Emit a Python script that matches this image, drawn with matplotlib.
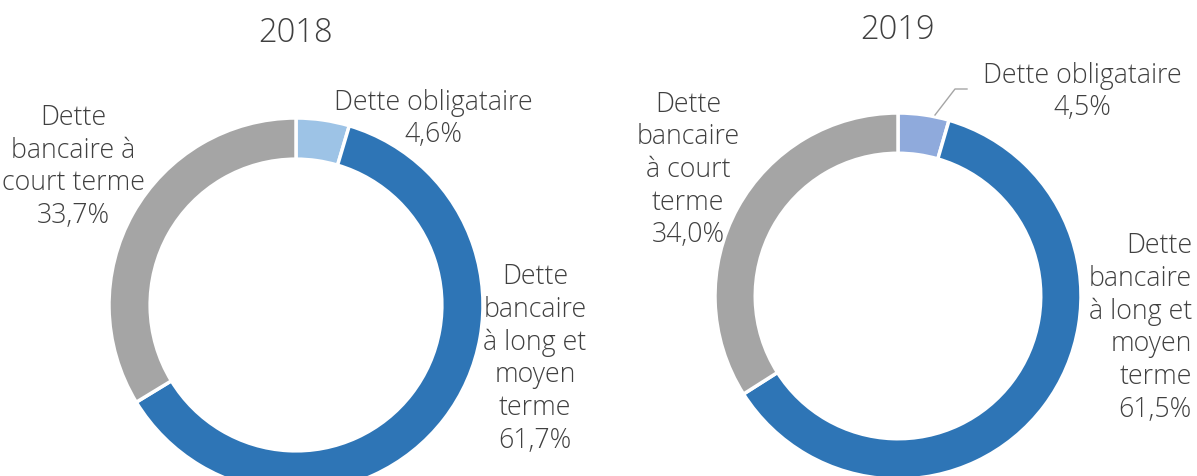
import matplotlib.pyplot as plt

# chart data
years = ['2018', '2019']
categories = ['Dette obligataire', 'Dette bancaire à long et moyen terme', 'Dette bancaire à court terme']
values_2018 = [4.6, 61.7, 33.7]
values_2019 = [4.5, 61.5, 34.0]
colours_2018 = ['#9DC3E6', '#2E75B6', '#A5A5A5']
colours_2019 = ['#8FAADC', '#2E75B6', '#A5A5A5']

W, H = 1197, 476
TXT = '#404040'
plt.rcParams['font.family'] = ['Open Sans', 'DejaVu Sans']

fig = plt.figure(figsize=(W / 100, H / 100), dpi=100)
ax = fig.add_axes([0, 0, 1, 1])


def py(y):
    # convert top-down pixel y into axis y
    return H - y


def fmt(v):
    return ('%.1f%%' % v).replace('.', ',')


# donut geometry (centre x, centre y, radius) in pixels
donuts = [(296, 305, 187), (898, 296, 183)]

for (cx, cy, r), vals, cols in zip(donuts, [values_2018, values_2019], [colours_2018, colours_2019]):
    ax.pie(vals, colors=cols, startangle=90, counterclock=False,
           center=(cx, py(cy)), radius=r, frame=True,
           wedgeprops=dict(width=r * 0.22, edgecolor='white', linewidth=2.5))

ax.set_xlim(0, W)
ax.set_ylim(0, H)
ax.set_aspect('equal')
ax.axis('off')

fs = 19.3
kw = dict(va='center', fontsize=fs, color=TXT, linespacing=1.22, fontweight='light')
# 2018
ax.text(296, py(33), years[0], ha='center', va='center', fontsize=23.5, color=TXT, fontweight='light')
ax.text(433, py(119), 'Dette obligataire\n' + fmt(values_2018[0]), ha='center', **kw)
ax.text(73, py(167), 'Dette\nbancaire à\ncourt terme\n' + fmt(values_2018[2]), ha='center', **kw)
ax.text(535, py(359), 'Dette\nbancaire\nà long et\nmoyen\nterme\n' + fmt(values_2018[1]), ha='center', **kw)

# 2019
ax.text(898, py(30), years[1], ha='center', va='center', fontsize=23.5, color=TXT, fontweight='light')
ax.text(1082, py(92), 'Dette obligataire\n' + fmt(values_2019[0]), ha='center', **kw)
ax.plot([967, 955, 935], [py(89), py(89), py(115)], color='#A5A5A5', lw=1)
ax.text(688, py(170), 'Dette\nbancaire\nà court\nterme\n' + fmt(values_2019[2]), ha='center', **kw)
ax.text(1192, py(328), 'Dette\nbancaire\nà long et\nmoyen\nterme\n' + fmt(values_2019[1]), ha='right',
        multialignment='right', **kw)

fig.savefig('out.png', dpi=100)
